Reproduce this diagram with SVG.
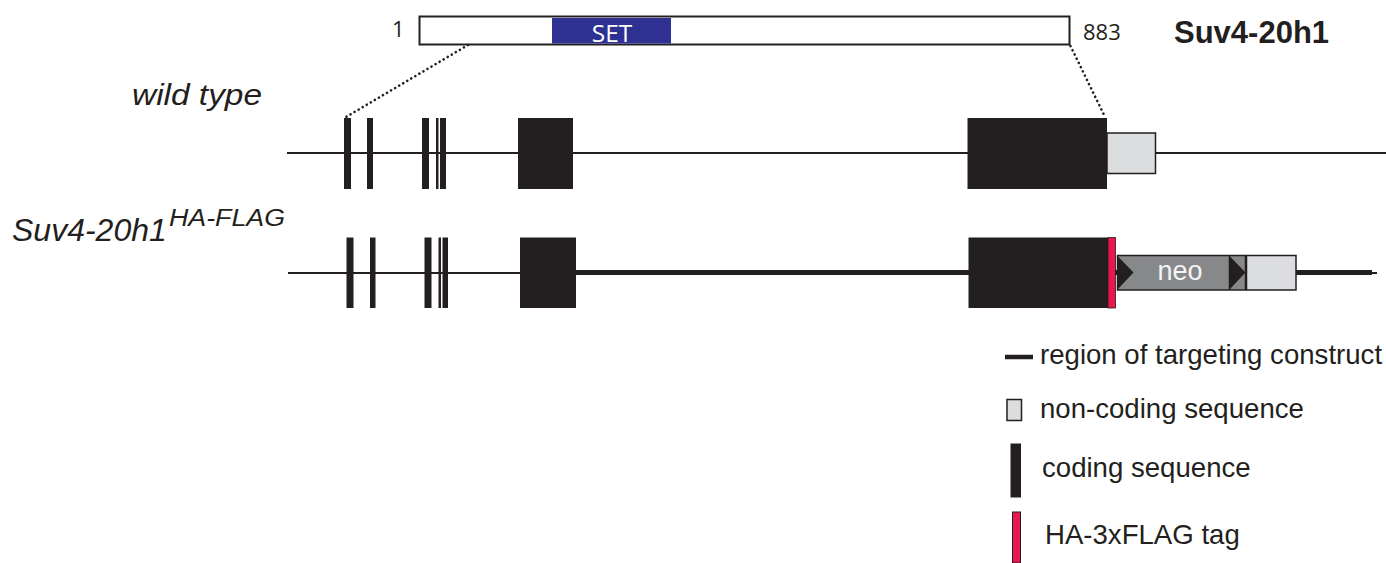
<svg xmlns="http://www.w3.org/2000/svg" width="1386" height="563" viewBox="0 0 1386 563">
<style>
.ex{fill:#231f20;}
.utr{fill:#dcdddf;stroke:#231f20;stroke-width:1.5;}
.thin{stroke:#231f20;stroke-width:2;fill:none;}
.thick{stroke:#231f20;stroke-width:5;fill:none;}
.dot{stroke:#231f20;stroke-width:2.6;stroke-linecap:round;stroke-dasharray:0.1 4.6;fill:none;}
.lab{font-family:"Liberation Sans",Arial,sans-serif;fill:#231f20;}
.num{font-family:"Open Sans","Liberation Sans",sans-serif;fill:#231f20;font-size:22px;}
.leg{font-family:"Liberation Sans",Arial,sans-serif;fill:#231f20;font-size:27.6px;}
</style>
<rect width="1386" height="563" fill="#ffffff"/>

<g id="protein">
  <rect x="419.5" y="16.5" width="650" height="28" fill="#ffffff" stroke="#231f20" stroke-width="2"/>
  <rect x="552" y="18" width="119" height="25.5" fill="#2e3192"/>
  <text x="612" y="41.5" text-anchor="middle" style="font-family:'Open Sans','Liberation Sans',sans-serif;font-size:24.5px;fill:#ffffff">SET</text>
  <text class="num" x="392" y="36.5">1</text>
  <text class="num" x="1083" y="39.5">883</text>
  <text class="lab" x="1174" y="43" style="font-size:31px;font-weight:bold">Suv4-20h1</text>
</g>

<g id="connectors">
  <line class="dot" x1="468" y1="45" x2="346" y2="117"/>
  <line class="dot" x1="1070.5" y1="46" x2="1105" y2="117"/>
</g>

<g id="label-wildtype">
  <text class="lab" x="132" y="105" textLength="130" lengthAdjust="spacingAndGlyphs" style="font-size:30px;font-style:italic">wild type</text>
</g>

<g id="label-mutant">
  <text class="lab" x="12" y="241" style="font-size:32px;font-style:italic">Suv4-20h1</text>
  <text class="lab" x="169" y="226" textLength="116" lengthAdjust="spacingAndGlyphs" style="font-size:23px;font-style:italic">HA-FLAG</text>
</g>

<g id="wildtype-gene">
  <line class="thin" x1="287" y1="153" x2="1386" y2="153"/>
  <rect class="ex" x="344" y="118" width="7" height="71"/>
  <rect class="ex" x="367" y="118" width="6" height="71"/>
  <rect class="ex" x="422" y="118" width="7" height="71"/>
  <rect class="ex" x="436" y="118" width="2.5" height="71"/>
  <rect class="ex" x="440" y="118" width="6" height="71"/>
  <rect class="ex" x="518" y="118" width="55" height="71"/>
  <rect class="ex" x="967.5" y="118" width="139.5" height="71"/>
  <rect class="utr" x="1107" y="133" width="48.5" height="40.5"/>
</g>

<g id="mutant-gene">
  <line class="thin" x1="288" y1="273" x2="522" y2="273"/>
  <line class="thick" x1="574" y1="272.5" x2="970" y2="272.5"/>
  <line class="thick" x1="1114" y1="272.5" x2="1120" y2="272.5"/>
  <line class="thick" x1="1295" y1="272.5" x2="1372" y2="272.5"/>
  <line class="thin" x1="1370" y1="273" x2="1377" y2="273"/>
  <rect class="ex" x="346.5" y="237.5" width="7" height="70.5"/>
  <rect class="ex" x="370" y="237.5" width="5.5" height="70.5"/>
  <rect class="ex" x="424.5" y="237.5" width="7" height="70.5"/>
  <rect class="ex" x="438.5" y="237.5" width="2.5" height="70.5"/>
  <rect class="ex" x="442.5" y="237.5" width="5.5" height="70.5"/>
  <rect class="ex" x="520" y="237.5" width="56" height="70.5"/>
  <rect class="ex" x="968.5" y="237.5" width="139.5" height="70.5"/>
  <rect x="1108" y="237.5" width="7.5" height="70.5" fill="#e8184d" stroke="#231f20" stroke-width="0.8"/>
  <g id="neo">
    <rect x="1117.5" y="255.5" width="128" height="34.5" fill="#87888a" stroke="#231f20" stroke-width="1.5"/>
    <polygon points="1117.5,256 1133.5,272.5 1117.5,289.5" class="ex"/>
    <line x1="1229.5" y1="255.5" x2="1229.5" y2="290" stroke="#231f20" stroke-width="1.5"/>
    <polygon points="1229.5,256 1245.5,272.5 1229.5,289.5" class="ex"/>
    <text x="1180" y="279.5" text-anchor="middle" style="font-family:'Liberation Sans',Arial,sans-serif;font-size:27px;fill:#f4f4f4">neo</text>
  </g>
  <rect class="utr" x="1246.5" y="255.5" width="49.5" height="34.5"/>
</g>

<g id="legend">
  <g id="legend-construct">
    <line x1="1005" y1="357" x2="1033" y2="357" stroke="#231f20" stroke-width="4.5"/>
    <text class="leg" x="1040" y="364">region of targeting construct</text>
  </g>
  <g id="legend-noncoding">
    <rect class="utr" x="1007" y="399.5" width="14.5" height="21"/>
    <text class="leg" x="1040" y="418">non-coding sequence</text>
  </g>
  <g id="legend-coding">
    <rect class="ex" x="1010.5" y="443.5" width="10.5" height="54"/>
    <text class="leg" x="1042" y="477">coding sequence</text>
  </g>
  <g id="legend-tag">
    <rect x="1012.5" y="512" width="8" height="51" fill="#e8184d" stroke="#231f20" stroke-width="1"/>
    <text class="leg" x="1045" y="544">HA-3xFLAG tag</text>
  </g>
</g>
</svg>
